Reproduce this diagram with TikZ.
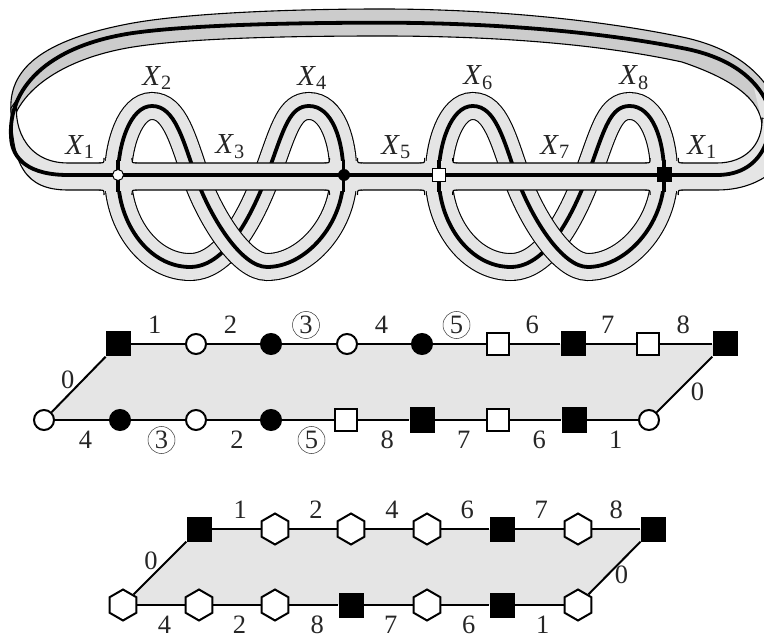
\documentclass[tikz,border=0pt]{standalone}
\usepackage{fontspec}
\setmainfont{Liberation Serif}
\usepackage{tikz}
\usetikzlibrary{shapes.geometric, backgrounds}
\definecolor{bandlight}{HTML}{E5E5E5}
\definecolor{banddark}{HTML}{CCCCCC}
\tikzstyle{bandedge} = [draw=black, line width=1.1pt, line join=round]
\tikzstyle{midline} = [draw=black, line width=3.8pt]
\tikzstyle{whitecirc} = [circle, draw=black, line width=2pt, fill=white, minimum size=20pt, inner sep=0pt]
\tikzstyle{blackcirc} = [circle, draw=black, line width=2pt, fill=black, minimum size=20pt, inner sep=0pt]
\tikzstyle{whitesq} = [rectangle, draw=black, line width=2pt, fill=white, minimum size=22pt, inner sep=0pt]
\tikzstyle{blacksq} = [rectangle, fill=black, minimum size=25pt, inner sep=0pt]
\tikzstyle{whitehex} = [regular polygon, regular polygon sides=6, regular polygon rotate=30, draw=black, line width=2pt, fill=white, minimum size=31pt, inner sep=0pt]
\tikzstyle{smallwhitecirc} = [circle, draw=black, line width=1pt, fill=white, minimum size=11pt, inner sep=0pt]
\tikzstyle{smallblackcirc} = [circle, fill=black, minimum size=12pt, inner sep=0pt]
\tikzstyle{smallwhitesq} = [rectangle, draw=black, line width=1pt, fill=white, minimum size=13.5pt, inner sep=0pt]
\tikzstyle{smallblacksq} = [rectangle, fill=black, minimum size=15pt, inner sep=0pt]
\tikzstyle{link} = [line width=2pt]
\tikzstyle{toplab} = [inner sep=0pt, xshift=-3pt, yshift=19pt]
\tikzstyle{botlab} = [inner sep=0pt, xshift=3.5pt, yshift=-20pt]
\tikzstyle{circlab} = [circle, draw=black!80, line width=0.5pt, minimum size=27pt, inner sep=0pt]
\tikzstyle{xlab} = [inner sep=0pt, font=\fontsize{29}{34}\selectfont]
\newcommand{\strand}[1]{%
  \draw [line width=28pt] #1;
  \draw [bandlight, line width=25.8pt] #1;
  \draw [midline] #1;
}
\newcommand{\Xlab}[1]{\textit{X}\textsubscript{#1}}
\begin{document}
\begin{tikzpicture}[x=1pt, y=-1pt, font=\fontsize{26.5}{30}\selectfont, text=black!85]
    \useasboundingbox (0,0) rectangle (764,639);

    % the ribbon
    \begin{scope}
    \clip (0,0) rectangle (764,639);
    \draw [bandedge, fill=banddark] (11,112) .. controls (8,70) and (40,40) .. (133,23)
        .. controls (190,13) and (290,9) .. (382,9) .. controls (480,9) and (590,18) .. (682,37)
        .. controls (730,47) and (764,70) .. (780,110) -- (762,125)
        .. controls (760,100) and (735,80) .. (682,62) .. controls (590,42) and (480,36) .. (382,36)
        .. controls (290,36) and (190,38) .. (133,47) .. controls (70,57) and (25,85) .. (13,120) -- cycle;

    % loops, the second pair is the first one moved
    \foreach \dx in {0,320.7} {
      \begin{scope}[xshift=\dx pt]
      \strand{(118,176) .. controls (118,225) and (150,267) .. (190,267) .. controls (228,267) and (255,209) .. (270,167) .. controls (284,128) and (290,106) .. (309,106) .. controls (332,106) and (343.5,140) .. (343.5,176)}
      \strand{(118,176) .. controls (118,145) and (130,106) .. (152,106) .. controls (175,106) and (183,140) .. (197,180) .. controls (212,220) and (242,267) .. (267,267) .. controls (305,267) and (343.5,225) .. (343.5,176)}
      \end{scope}
    }

    % lower strip of the ribbon
    \draw [bandedge, fill=bandlight] (18,98) .. controls (12,120) and (22,163) .. (68,163) -- (717,163)
        .. controls (745,163) and (763,145) .. (762,118) -- (780,118) -- (780,165)
        .. controls (765,180) and (745,190) .. (717,190) -- (68,190)
        .. controls (25,190) and (12,165) .. (11,108) -- cycle;
    \fill [bandlight] (754,88) -- (764,98) -- (764,118) -- (761,117) -- cycle;

    % junctions
    \foreach \cx in {118,343.5,438.7,664.2} {
      \fill [bandlight] (\cx-13.4,161.5) rectangle (\cx+13.4,191.5);
      \foreach \sx in {-1,1} {
        \foreach \sy/\yy in {-1/163,1/190} {
          \fill [bandlight] ({\cx+\sx*19},\yy) .. controls ({\cx+\sx*14},\yy) .. ({\cx+\sx*14},{\yy+\sy*5})
              -- ({\cx+\sx*13},{\yy+\sy*5}) -- ({\cx+\sx*13},{\yy-\sy}) -- ({\cx+\sx*19},{\yy-\sy}) -- cycle;
          \draw [bandedge] ({\cx+\sx*19},\yy) .. controls ({\cx+\sx*14},\yy) .. ({\cx+\sx*14},{\yy+\sy*5});
        }
      }
      \draw [midline] (\cx,160) -- (\cx,192);
    }

    \draw [midline] (11,137) .. controls (8,90) and (45,46) .. (133,33)
        .. controls (190,25) and (290,22.7) .. (382,22.7) .. controls (480,22.7) and (590,30) .. (682,48)
        .. controls (725,56) and (755,75) .. (768,105) .. controls (775,130) and (765,175) .. (717,175)
        -- (68,175) .. controls (30,175) and (12,160) .. (11,137);
    \end{scope}

    \node [smallwhitecirc] at (118,175) (j1) {};
    \node [smallblackcirc] at (344,175) (j2) {};
    \node [smallwhitesq] at (439,175) (j3) {};
    \node [smallblacksq] at (664,175) (j4) {};

    \node [xlab] at (80,147) (x1) {\Xlab{1}};
    \node [xlab] at (157,78) (x2) {\Xlab{2}};
    \node [xlab] at (230,147) (x3) {\Xlab{3}};
    \node [xlab] at (312,78) (x4) {\Xlab{4}};
    \node [xlab] at (396,147) (x5) {\Xlab{5}};
    \node [xlab] at (478,78) (x6) {\Xlab{6}};
    \node [xlab] at (555,147) (x7) {\Xlab{7}};
    \node [xlab] at (634,78) (x8) {\Xlab{8}};
    \node [xlab] at (702,147) (x9) {\Xlab{1}};

    % middle strip
    \node [blacksq] at (118,344) (p1) {};
    \node [whitecirc] at (196,344) (p2) {};
    \node [blackcirc] at (271,344) (p3) {};
    \node [whitecirc] at (347,344) (p4) {};
    \node [blackcirc] at (422,344) (p5) {};
    \node [whitesq] at (498,344) (p6) {};
    \node [blacksq] at (573,344) (p7) {};
    \node [whitesq] at (648,344) (p8) {};
    \node [blacksq] at (725,344) (p9) {};
    \node [whitecirc] at (44,420) (q1) {};
    \node [blackcirc] at (120,420) (q2) {};
    \node [whitecirc] at (196,420) (q3) {};
    \node [blackcirc] at (271,420) (q4) {};
    \node [whitesq] at (346,420) (q5) {};
    \node [blacksq] at (422,420) (q6) {};
    \node [whitesq] at (498,420) (q7) {};
    \node [blacksq] at (574,420) (q8) {};
    \node [whitecirc] at (649,420) (q9) {};

    \begin{scope}[on background layer]
    \fill [bandlight] (p1.center) -- (p9.center) -- (q9.center) -- (q1.center) -- cycle;
    \end{scope}

    \draw [link] (q1) -- node [inner sep=0pt, xshift=-11pt, yshift=5pt] {0} (p1);
    \draw [link] (p1) -- node [toplab] {1} (p2);
    \draw [link] (p2) -- node [toplab] {2} (p3);
    \draw [link] (p3) -- node [toplab, circlab] {3} (p4);
    \draw [link] (p4) -- node [toplab] {4} (p5);
    \draw [link] (p5) -- node [toplab, circlab] {5} (p6);
    \draw [link] (p6) -- node [toplab] {6} (p7);
    \draw [link] (p7) -- node [toplab] {7} (p8);
    \draw [link] (p8) -- node [toplab] {8} (p9);
    \draw [link] (q1) -- node [botlab] {4} (q2);
    \draw [link] (q2) -- node [botlab, circlab] {3} (q3);
    \draw [link] (q3) -- node [botlab] {2} (q4);
    \draw [link] (q4) -- node [botlab, circlab] {5} (q5);
    \draw [link] (q5) -- node [botlab] {8} (q6);
    \draw [link] (q6) -- node [botlab] {7} (q7);
    \draw [link] (q7) -- node [botlab] {6} (q8);
    \draw [link] (q8) -- node [botlab] {1} (q9);
    \draw [link] (q9) -- node [inner sep=0pt, xshift=13pt, yshift=-7pt] {0} (p9);

    % bottom strip
    \node [blacksq] at (199,529) (r1) {};
    \node [whitehex] at (275,529) (r2) {};
    \node [whitehex] at (351,529) (r3) {};
    \node [whitehex] at (427,529) (r4) {};
    \node [blacksq] at (502,529) (r5) {};
    \node [whitehex] at (578,529) (r6) {};
    \node [blacksq] at (653,529) (r7) {};
    \node [whitehex] at (123,605) (s1) {};
    \node [whitehex] at (199,605) (s2) {};
    \node [whitehex] at (275,605) (s3) {};
    \node [blacksq] at (351,605) (s4) {};
    \node [whitehex] at (427,605) (s5) {};
    \node [blacksq] at (502,605) (s6) {};
    \node [whitehex] at (578,605) (s7) {};

    \begin{scope}[on background layer]
    \fill [bandlight] (r1.center) -- (r7.center) -- (s7.center) -- (s1.center) -- cycle;
    \end{scope}

    \draw [link] (s1) -- node [inner sep=0pt, xshift=-9pt, yshift=7pt] {0} (r1);
    \draw [link] (r1) -- node [toplab, xshift=7pt] {1} (r2);
    \draw [link] (r2) -- node [toplab, xshift=6pt] {2} (r3);
    \draw [link] (r3) -- node [toplab, xshift=6pt] {4} (r4);
    \draw [link] (r4) -- node [toplab, xshift=5pt] {6} (r5);
    \draw [link] (r5) -- node [toplab, xshift=5pt] {7} (r6);
    \draw [link] (r6) -- node [toplab, xshift=3pt] {8} (r7);
    \draw [link] (s1) -- node [botlab] {4} (s2);
    \draw [link] (s2) -- node [botlab, xshift=-1pt] {2} (s3);
    \draw [link] (s3) -- node [botlab] {8} (s4);
    \draw [link] (s4) -- node [botlab, xshift=-1pt] {7} (s5);
    \draw [link] (s5) -- node [botlab] {6} (s6);
    \draw [link] (s6) -- node [botlab] {1} (s7);
    \draw [link] (s7) -- node [inner sep=0pt, xshift=7pt, yshift=-7pt] {0} (r7);
\end{tikzpicture}
\end{document}
